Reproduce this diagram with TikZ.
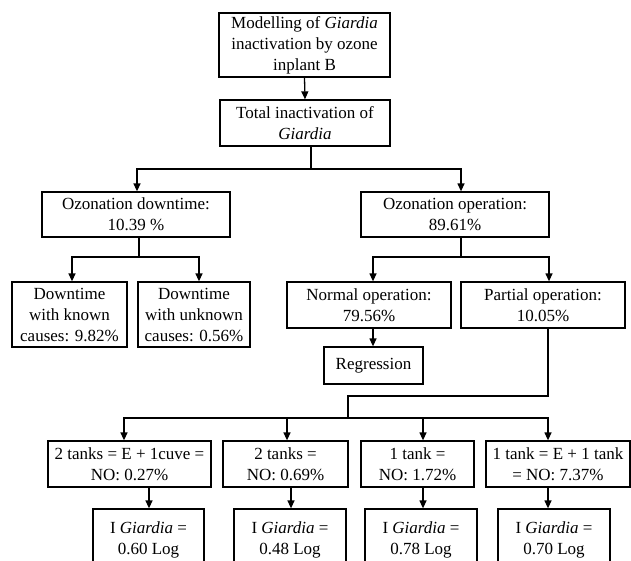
\documentclass[tikz,border=0pt]{standalone}
\usepackage{fontspec}
\setmainfont{Liberation Serif}
\usetikzlibrary{arrows.meta}

\tikzset{
  box/.style={draw, line width=1.3pt, align=center, inner sep=0pt,
    font=\fontsize{17}{21}\selectfont},
  link/.style={line width=1.3pt},
  arr/.style={link, -{Triangle[length=8pt,width=7pt]}}
}

\begin{document}
\begin{tikzpicture}[x=1pt,y=-1pt]
  \useasboundingbox (0,0) rectangle (631,560);

  \node[box, minimum width=171pt, minimum height=64pt] (model) at (304.5,45)
    {Modelling of \textit{Giardia}\\inactivation by ozone\\inplant B};
  \node[box, minimum width=170pt, minimum height=46pt] (total) at (305,123)
    {Total inactivation of\\\textit{Giardia}};

  \node[box, minimum width=188pt, minimum height=45pt] (down) at (136,214.5)
    {Ozonation downtime:\\10.39 \%};
  \node[box, minimum width=188pt, minimum height=45pt] (oper) at (455,214.5)
    {Ozonation operation:\\89.61\%};

  \node[box, minimum width=115pt, minimum height=65pt] (known) at (69.5,314.5)
    {Downtime\\with known\\causes: 9.82\%};
  \node[box, minimum width=112pt, minimum height=65pt] (unknown) at (194,314.5)
    {Downtime\\with unknown\\causes: 0.56\%};
  \node[box, minimum width=164pt, minimum height=46pt] (normal) at (369,305)
    {Normal operation:\\79.56\%};
  \node[box, minimum width=164pt, minimum height=46pt] (partial) at (543,305)
    {Partial operation:\\10.05\%};
  \node[box, minimum width=99pt, minimum height=37pt] (regr) at (373.5,365.5)
    {Regression};

  \node[box, minimum width=163pt, minimum height=46pt] (tankA) at (129.5,464)
    {2 tanks = E + 1cuve =\\NO: 0.27\%};
  \node[box, minimum width=125pt, minimum height=46pt] (tankB) at (285.5,464)
    {2 tanks =\\NO: 0.69\%};
  \node[box, minimum width=113pt, minimum height=46pt] (tankC) at (417.5,464)
    {1 tank =\\NO: 1.72\%};
  \node[box, minimum width=144pt, minimum height=46pt] (tankD) at (558,464)
    {1 tank = E + 1 tank\\= NO: 7.37\%};

  \node[box, minimum width=111pt, minimum height=62pt] (logA) at (148.5,540)
    {I \textit{Giardia} =\\0.60 Log};
  \node[box, minimum width=112pt, minimum height=62pt] (logB) at (290,540)
    {I \textit{Giardia} =\\0.48 Log};
  \node[box, minimum width=112pt, minimum height=62pt] (logC) at (421,540)
    {I \textit{Giardia} =\\0.78 Log};
  \node[box, minimum width=112pt, minimum height=62pt] (logD) at (554,540)
    {I \textit{Giardia} =\\0.70 Log};

  \coordinate (jtop) at (311,169);
  \coordinate (jdown) at (139,257);
  \coordinate (jop) at (461,257);
  \coordinate (bend) at (348,396);
  \coordinate (jtank) at (348,418);

  \draw[arr] (model.south) -- (total.north);
  \draw[link] ([xshift=6pt]total.south) -- (jtop);
  \draw[arr] (jtop) -| ([xshift=1pt]down.north);
  \draw[arr] (jtop) -| ([xshift=6pt]oper.north);

  \draw[link] ([xshift=3pt]down.south) -- (jdown);
  \draw[arr] (jdown) -| ([xshift=2.5pt]known.north);
  \draw[arr] (jdown) -| ([xshift=5pt]unknown.north);

  \draw[link] ([xshift=6pt]oper.south) -- (jop);
  \draw[arr] (jop) -| ([xshift=4pt]normal.north);
  \draw[arr] (jop) -| ([xshift=6pt]partial.north);
  \draw[arr] ([xshift=4pt]normal.south) -- ([xshift=4pt]normal.south |- regr.north);

  \draw[link] ([xshift=5pt]partial.south) |- (bend) -- (jtank);
  \draw[arr] (jtank) -| ([xshift=-5.5pt]tankA.north);
  \draw[arr] (jtank) -| ([xshift=1.5pt]tankB.north);
  \draw[arr] (jtank) -| ([xshift=5.5pt]tankC.north);
  \draw[arr] (jtank) -| ([xshift=-10pt]tankD.north);

  \draw[arr] ([xshift=0.5pt]logA.north |- tankA.south) -- ([xshift=0.5pt]logA.north);
  \draw[arr] ([xshift=1pt]logB.north |- tankB.south) -- ([xshift=1pt]logB.north);
  \draw[arr] ([xshift=2pt]logC.north |- tankC.south) -- ([xshift=2pt]logC.north);
  \draw[arr] ([xshift=-6pt]logD.north |- tankD.south) -- ([xshift=-6pt]logD.north);
\end{tikzpicture}
\end{document}
